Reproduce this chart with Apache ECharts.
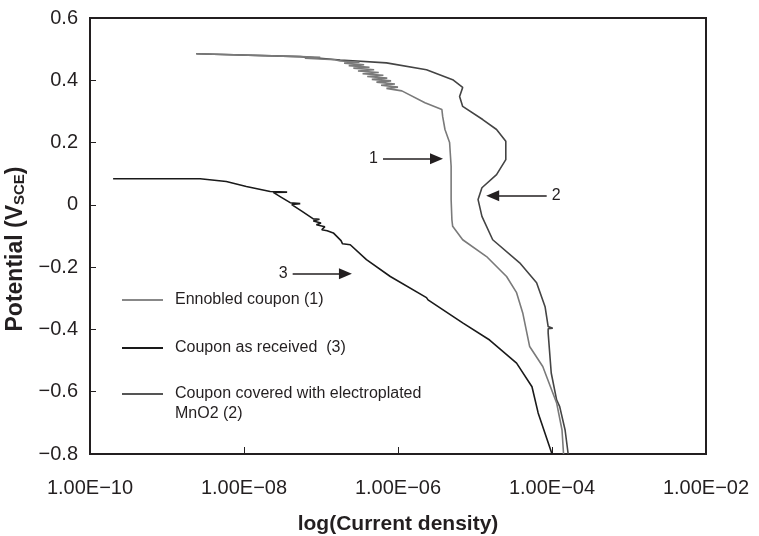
<!DOCTYPE html>
<html>
<head>
<meta charset="utf-8">
<script src="https://cdn.jsdelivr.net/npm/echarts@6/dist/echarts.min.js"></script>
<style>
  html, body { margin: 0; padding: 0; background: #fff; }
  #polar-chart { width: 759px; height: 536px; }
</style>
</head>
<body>
<div id="polar-chart"></div>
<script>
// x = log10(current density), y = potential (V vs SCE)
var names = ['Ennobled coupon (1)', 'Coupon as received  (3)', 'Coupon covered with electroplated\nMnO2 (2)'];

var ennobled = [
    [-8.62, 0.485], [-7.27, 0.476], [-7.01, 0.474], [-7.21, 0.471], [-6.82, 0.466],
    [-6.75, 0.462], [-6.50, 0.458], [-6.70, 0.455], [-6.44, 0.450], [-6.64, 0.447],
    [-6.37, 0.442], [-6.58, 0.439], [-6.31, 0.434], [-6.52, 0.430], [-6.25, 0.425],
    [-6.46, 0.421], [-6.19, 0.416], [-6.40, 0.412], [-6.14, 0.407], [-6.34, 0.403],
    [-6.09, 0.398], [-6.28, 0.394], [-6.04, 0.388], [-6.22, 0.384], [-6.00, 0.378],
    [-6.15, 0.374], [-5.95, 0.366], [-5.65, 0.328], [-5.43, 0.306], [-5.42, 0.284],
    [-5.39, 0.242], [-5.33, 0.200], [-5.31, 0.124], [-5.31, 0.017], [-5.30, -0.048],
    [-5.29, -0.069], [-5.16, -0.112], [-4.85, -0.166], [-4.59, -0.230], [-4.46, -0.282],
    [-4.38, -0.347], [-4.29, -0.455], [-4.12, -0.519], [-3.94, -0.636], [-3.87, -0.723],
    [-3.85, -0.80]
];

var asReceived = [
    [-9.70, 0.084], [-8.57, 0.084], [-8.23, 0.075], [-7.97, 0.059], [-7.66, 0.043],
    [-7.44, 0.041], [-7.62, 0.040], [-7.52, 0.025], [-7.40, 0.007], [-7.27, 0.004],
    [-7.38, 0.001], [-7.25, -0.020], [-7.10, -0.045], [-7.02, -0.046], [-7.10, -0.052],
    [-7.00, -0.058], [-7.06, -0.064], [-6.95, -0.070], [-6.99, -0.080], [-6.92, -0.083],
    [-6.84, -0.090], [-6.74, -0.115], [-6.72, -0.125], [-6.62, -0.128], [-6.41, -0.176],
    [-6.10, -0.230], [-5.63, -0.298], [-5.61, -0.305], [-5.16, -0.379], [-4.81, -0.434],
    [-4.46, -0.508], [-4.26, -0.584], [-4.18, -0.668], [-4.00, -0.80]
];

var mno2 = [
    [-8.62, 0.485], [-7.27, 0.476], [-6.75, 0.465], [-6.15, 0.456], [-5.63, 0.434],
    [-5.29, 0.402], [-5.16, 0.377], [-5.20, 0.348], [-5.16, 0.316], [-4.90, 0.274],
    [-4.72, 0.242], [-4.60, 0.204], [-4.60, 0.145], [-4.72, 0.097], [-4.91, 0.055],
    [-4.96, 0.017], [-4.91, -0.037], [-4.77, -0.112], [-4.42, -0.186], [-4.20, -0.250],
    [-4.09, -0.327], [-4.05, -0.391], [-3.99, -0.396], [-4.05, -0.398], [-4.05, -0.411],
    [-4.01, -0.540], [-3.94, -0.626], [-3.90, -0.648], [-3.83, -0.723], [-3.79, -0.80]
];

// arrows: label, start point, end point
var arrows = [
    ['1', [-6.195, 0.148], [-5.50, 0.148]],
    ['2', [-4.069, 0.029], [-4.77, 0.029]],
    ['3', [-7.368, -0.221], [-6.683, -0.221]]
];

var ink = '#231f20';
var font = '"Liberation Sans", Arial, Helvetica, sans-serif';

function expLabel(v) {
    var e = Math.round(v);
    var s = Math.abs(e) < 10 ? '0' + Math.abs(e) : '' + Math.abs(e);
    return '1.00E' + (e < 0 ? '\u2212' : '+') + s;
}

function legendAt(name, top, twoLines) {
    var leg = {
        data: [name], left: 117, top: top, orient: 'vertical',
        icon: 'rect', itemWidth: 41, itemHeight: 2, selectedMode: false,
        textStyle: { color: ink, fontSize: 16, fontFamily: font, lineHeight: 14, padding: [0, 0, 0, 7] }
    };
    if (twoLines) {
        // empty first line keeps the icon level with the first text line
        leg.textStyle.lineHeight = 20;
        leg.formatter = function (n) { return '\n' + n; };
    }
    return leg;
}

var chart = echarts.init(document.getElementById('polar-chart'));

var options = {
    animation: false,
    textStyle: { fontFamily: font },
    grid: {
        left: 90, top: 18, width: 616, height: 436, outerBoundsMode: 'none',
        show: true, borderColor: ink, borderWidth: 2
    },
    legend: [
        legendAt(names[0], 287),
        legendAt(names[1], 335),
        legendAt(names[2], 359, true)
    ],
    xAxis: {
        type: 'value', min: -10, max: -2, interval: 2,
        name: 'log(Current density)', nameLocation: 'middle', nameGap: 60,
        nameTextStyle: { color: ink, fontSize: 21, fontWeight: 'bold', fontFamily: font },
        axisLine: { onZero: false, lineStyle: { color: ink, width: 2 } },
        axisTick: { inside: true, length: 7, lineStyle: { color: ink, width: 1 } },
        axisLabel: { color: ink, fontSize: 20, margin: 24, formatter: expLabel },
        splitLine: { show: false }
    },
    yAxis: {
        type: 'value', min: -0.8, max: 0.6, interval: 0.2,
        name: 'Potential (V{s|SCE})', nameLocation: 'middle', nameGap: 60,
        nameTextStyle: {
            color: ink, fontSize: 23, fontWeight: 'bold', fontFamily: font, padding: [0, 26, 0, 0],
            rich: { s: { fontSize: 15, fontWeight: 'bold', fontFamily: font, color: ink, verticalAlign: 'bottom', padding: [8, 0, 0, 0] } }
        },
        axisLine: { onZero: false, lineStyle: { color: ink, width: 2 } },
        axisTick: { inside: true, length: 6, lineStyle: { color: ink, width: 1 } },
        axisLabel: {
            color: ink, fontSize: 20, margin: 12,
            formatter: function (v) {
                if (Math.abs(v) < 1e-9) return '0';
                return v.toFixed(1).replace('-', '\u2212');
            }
        },
        splitLine: { show: false }
    },
    series: [
        {
            name: names[2], type: 'line', data: mno2, symbol: 'none', z: 2,
            lineStyle: { color: '#444', width: 1.6 }, itemStyle: { color: '#555' }
        },
        {
            name: names[0], type: 'line', data: ennobled, symbol: 'none', z: 3,
            lineStyle: { color: '#7a7a7a', width: 1.6 }, itemStyle: { color: '#888' }
        },
        {
            name: names[1], type: 'line', data: asReceived, symbol: 'none', z: 4,
            lineStyle: { color: '#1a1a1a', width: 1.6 }, itemStyle: { color: '#1a1a1a' },
            markLine: {
                silent: true, animation: false,
                symbol: ['none', 'triangle'], symbolSize: [11, 13],
                lineStyle: { color: ink, width: 1.5, type: 'solid' },
                label: { show: true, position: 'start', color: ink, fontSize: 16, fontFamily: font, distance: 5 },
                data: arrows.map(function (a) {
                    return [
                        { coord: a[1], label: { formatter: a[0] } },
                        { coord: a[2] }
                    ];
                })
            }
        }
    ]
};

chart.setOption(options);
</script>
</body>
</html>
